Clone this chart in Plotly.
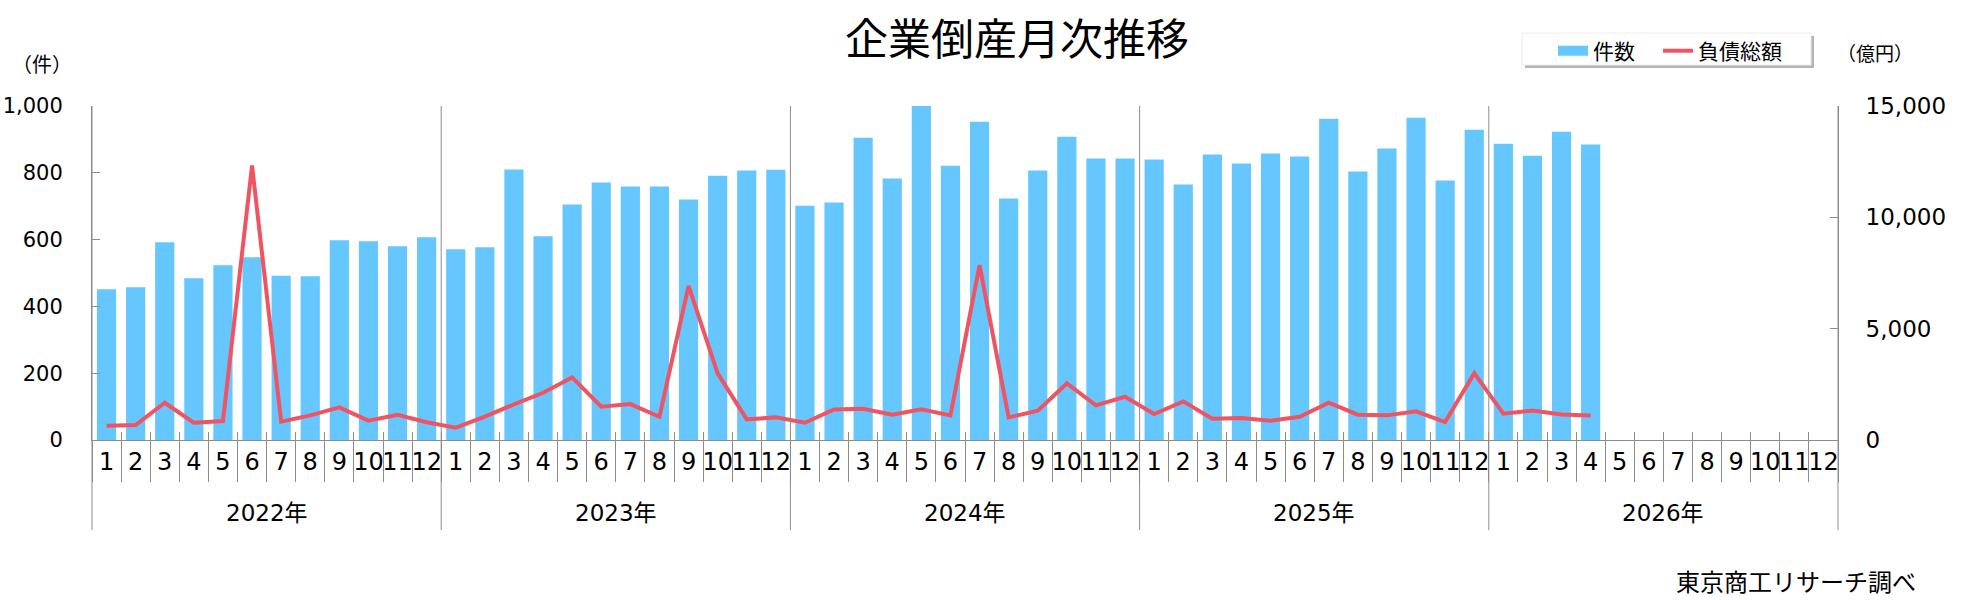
import plotly.graph_objects as go

years = ["2022年", "2023年", "2024年", "2025年", "2026年"]
months = [str(m) for m in range(1, 13)]

# 件数 (left axis)
counts_2022 = [451, 457, 592, 484, 523, 547, 492, 490, 598, 595, 580, 607]
counts_2023 = [571, 577, 810, 610, 705, 771, 759, 759, 720, 791, 807, 809]
counts_2024 = [701, 711, 905, 783, 1009, 821, 953, 723, 807, 908, 843, 843]
counts_2025 = [840, 765, 855, 828, 858, 849, 962, 804, 873, 965, 777, 929]
counts_2026 = [887, 851, 923, 885, None, None, None, None, None, None, None, None]

# 負債総額 (right axis, 億円)
debt_2022 = [643, 673, 1674, 777, 852, 12331, 822, 1106, 1465, 867, 1136, 800]
debt_2023 = [553, 1046, 1600, 2122, 2810, 1495, 1614, 1046, 6921, 2990, 927, 1016]
debt_2024 = [777, 1375, 1405, 1136, 1375, 1106, 7848, 1016, 1315, 2541, 1555, 1943]
debt_2025 = [1166, 1734, 957, 987, 867, 1046, 1674, 1136, 1106, 1286, 806, 3000]
debt_2026 = [1183, 1320, 1149, 1097, None, None, None, None, None, None, None, None]

left_ticks = [0, 200, 400, 600, 800, 1000]
right_ticks = [0, 5000, 10000, 15000]

counts = counts_2022 + counts_2023 + counts_2024 + counts_2025 + counts_2026
debt = debt_2022 + debt_2023 + debt_2024 + debt_2025 + debt_2026
x_keys = [f"{y}{m}月" for y in years for m in months]
x_month = [m for _ in years for m in months]

W, H = 1961, 600
L, R, T, B = 92, 123, 106, 160
pw, ph = W - L - R, H - T - B

FONT = "DejaVu Sans, Noto Sans CJK JP, sans-serif"
JFONT = "Noto Sans CJK JP, sans-serif"
AXC = "#8c8c8c"
BLUE = "#66C7FF"
RED = "#F05462"

fig = go.Figure()
fig.add_trace(go.Bar(x=x_keys, y=counts, name="件数",
                     marker=dict(color=BLUE, line=dict(width=0)),
                     xaxis="x", yaxis="y", showlegend=False))
# legend-only swatch for the bar series (wide rectangle like the original)
fig.add_trace(go.Scatter(x=[None], y=[None], name="件数", mode="lines",
                         line=dict(color=BLUE, width=12), hoverinfo="skip",
                         legendwidth=60))
fig.add_trace(go.Scatter(x=x_keys, y=debt, name="負債総額",
                         mode="lines", line=dict(color=RED, width=4),
                         xaxis="x2", yaxis="y2", legendwidth=90))

def py(px):
    return (H - B - px) / ph

def pxx(px):
    return (px - L) / pw

shapes = []
n = len(x_keys)
for k in range(len(years) + 1):
    xp = k * len(months) / n
    shapes.append(dict(type="line", xref="paper", yref="paper", x0=xp, x1=xp,
                       y0=py(530), y1=1, line=dict(color=AXC, width=1)))
# legend box with shadow
shapes.append(dict(type="rect", xref="paper", yref="paper",
                   x0=pxx(1525), x1=pxx(1814), y0=py(68), y1=py(36),
                   fillcolor="#b4b4b4", line=dict(width=0), layer="below"))
shapes.append(dict(type="rect", xref="paper", yref="paper",
                   x0=pxx(1522), x1=pxx(1811), y0=py(65), y1=py(33),
                   fillcolor="white", line=dict(color="#ececec", width=1), layer="below"))

annotations = [
    dict(text="（件）", xref="paper", yref="paper", x=pxx(42), y=py(63),
         showarrow=False, xanchor="center", yanchor="middle",
         font=dict(family=JFONT, size=20)),
    dict(text="（億円）", xref="paper", yref="paper", x=pxx(1875), y=py(53),
         showarrow=False, xanchor="center", yanchor="middle",
         font=dict(family=JFONT, size=19)),
    dict(text="東京商工リサーチ調べ", xref="paper", yref="paper", x=pxx(1796), y=py(580),
         showarrow=False, xanchor="center", yanchor="middle",
         font=dict(family=JFONT, size=24)),
]
# year group labels centred under each block of months
for k, yl in enumerate(years):
    annotations.append(dict(text=yl, xref="x", yref="paper",
                            x=k * len(months) + (len(months) - 1) / 2, y=py(513),
                            showarrow=False, xanchor="center", yanchor="middle",
                            font=dict(family=FONT, size=23)))

fig.update_layout(
    width=W, height=H,
    margin=dict(l=L, r=R, t=T, b=B, autoexpand=False),
    paper_bgcolor="white", plot_bgcolor="white",
    font=dict(family=FONT, color="black", size=22),
    bargap=0.34,
    title=dict(text="企業倒産月次推移", x=1017 / W, xref="container", xanchor="center",
               y=1 - 40 / H, yref="container", yanchor="middle",
               font=dict(family=JFONT, size=43, color="black")),
    showlegend=True,
    legend=dict(orientation="h", x=pxx(1553), y=py(51), xanchor="left", yanchor="middle",
                bgcolor="rgba(0,0,0,0)", font=dict(family=JFONT, size=21),
                itemwidth=30, tracegroupgap=0),
    xaxis=dict(type="category", categoryorder="array", categoryarray=x_keys,
               tickmode="array", tickvals=x_keys, ticktext=x_month,
               ticks="outside", ticklen=41,
               tickson="boundaries", tickcolor=AXC, tickwidth=1, tickangle=0,
               showline=True, linecolor=AXC, linewidth=1, showgrid=False,
               tickfont=dict(family=FONT, size=24), automargin=False),
    xaxis2=dict(type="category", categoryorder="array", categoryarray=x_keys,
                overlaying="x", matches="x", side="bottom",
                tickmode="array", tickvals=x_keys, ticks="inside", ticklen=8,
                tickson="boundaries", tickcolor=AXC, tickwidth=1,
                showticklabels=False, showline=False, showgrid=False, automargin=False),
    yaxis=dict(range=[0, 1000], tickvals=left_ticks, tickformat=",",
               ticks="inside", ticklen=8, tickcolor=AXC, showline=True, linecolor=AXC,
               showgrid=False, zeroline=False, tickfont=dict(size=21),
               ticklabelstandoff=24, automargin=False),
    yaxis2=dict(range=[0, 15000], tickvals=right_ticks, tickformat=",", overlaying="y",
                side="right", ticks="inside", ticklen=8, tickcolor=AXC, showline=True,
                linecolor=AXC, showgrid=False, zeroline=False, tickfont=dict(size=23),
                ticklabelstandoff=22, automargin=False),
    shapes=shapes,
    annotations=annotations,
)

fig.write_html("out.html", config={"displayModeBar": False},
               post_script="document.body.style.margin='0';")
